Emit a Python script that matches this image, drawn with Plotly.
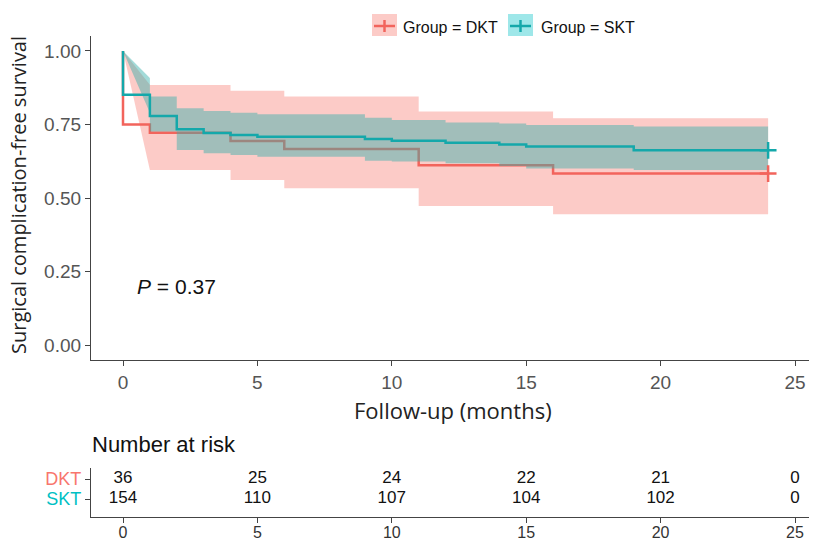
import plotly.graph_objects as go

# ---------------- data ----------------
groups = ["DKT", "SKT"]

# Kaplan-Meier step curves (time, survival)
dkt_time = [0, 0, 1, 4, 6, 11, 16, 24]
dkt_surv = [1.0, 0.750, 0.722, 0.694, 0.667, 0.611, 0.583, 0.583]

skt_time = [0, 0, 1, 2, 3, 4, 5, 9, 10, 12, 14, 15, 19, 24]
skt_surv = [1.0, 0.851, 0.779, 0.734, 0.721, 0.714, 0.708, 0.701, 0.695, 0.688, 0.682, 0.675, 0.662, 0.662]

# Confidence bands: knot times, upper/lower value per interval
dkt_ci_knots = [0, 1, 4, 6, 11, 16, 24]
dkt_upper = [0.885, 0.884, 0.865, 0.845, 0.794, 0.771]
dkt_lower = [0.595, 0.595, 0.561, 0.533, 0.473, 0.445]

skt_ci_knots = [0, 1, 2, 3, 4, 5, 9, 10, 12, 14, 15, 19, 24]
skt_upper = [0.908, 0.845, 0.805, 0.796, 0.790, 0.785, 0.773, 0.765, 0.757, 0.753, 0.748, 0.743]
skt_lower = [0.790, 0.726, 0.663, 0.652, 0.646, 0.640, 0.627, 0.624, 0.618, 0.609, 0.600, 0.595]

# Number at risk
risk_times = [0, 5, 10, 15, 20, 25]
dkt_risk = [36, 25, 24, 22, 21, 0]
skt_risk = [154, 110, 107, 104, 102, 0]

x_ticks = [0, 5, 10, 15, 20, 25]
y_ticks = [0.0, 0.25, 0.5, 0.75, 1.0]
p_text = "<i>P</i> = 0.37"

# ---------------- styles ----------------
RED = "#F2645C"
TEAL = "#14A8AA"
RED_FILL = "rgba(248,118,109,0.38)"
TEAL_FILL = "rgba(50,175,170,0.45)"
TEAL_KEY = "rgba(0,191,196,0.38)"

W, H = 817, 539
OFF = 8  # page body margin offset
ML, MR = 91 - OFF, 0
MT = 36 - OFF
MB = H - (517 - OFF)
PW, PH = W - ML - MR, H - MT - MB


def px_x(px):
    return (px - OFF - ML) / PW


def px_y(py):
    return (H - MB - (py - OFF)) / PH


def band_polygon(knots, upper, lower):
    xs, ys = [knots[0]], [1.0]
    xs.append(knots[1]); ys.append(upper[0])
    for i in range(1, len(upper)):
        xs += [knots[i], knots[i + 1]]
        ys += [upper[i], upper[i]]
    lx, ly = [knots[0]], [1.0]
    lx.append(knots[1]); ly.append(lower[0])
    for i in range(1, len(lower)):
        lx += [knots[i], knots[i + 1]]
        ly += [lower[i], lower[i]]
    return xs + lx[::-1], ys + ly[::-1]


fig = go.Figure()

bx, by = band_polygon(dkt_ci_knots, dkt_upper, dkt_lower)
fig.add_trace(go.Scatter(x=bx, y=by, fill="toself", fillcolor=RED_FILL, mode="none",
                         hoverinfo="skip", showlegend=False, xaxis="x", yaxis="y"))
fig.add_trace(go.Scatter(x=dkt_time, y=dkt_surv, mode="lines", line=dict(color=RED, width=2.5, shape="hv"),
                         showlegend=False, xaxis="x", yaxis="y"))
bx, by = band_polygon(skt_ci_knots, skt_upper, skt_lower)
fig.add_trace(go.Scatter(x=bx, y=by, fill="toself", fillcolor=TEAL_FILL, mode="none",
                         hoverinfo="skip", showlegend=False, xaxis="x", yaxis="y"))
fig.add_trace(go.Scatter(x=skt_time, y=skt_surv, mode="lines", line=dict(color=TEAL, width=2.5, shape="hv"),
                         showlegend=False, xaxis="x", yaxis="y"))
# censor marks
fig.add_trace(go.Scatter(x=[dkt_time[-1]], y=[dkt_surv[-1]], mode="markers",
                         marker=dict(symbol="cross-thin", size=12, line=dict(color=RED, width=2.5)),
                         showlegend=False, xaxis="x", yaxis="y"))
fig.add_trace(go.Scatter(x=[skt_time[-1]], y=[skt_surv[-1]], mode="markers",
                         marker=dict(symbol="cross-thin", size=12, line=dict(color=TEAL, width=2.5)),
                         showlegend=False, xaxis="x", yaxis="y"))

# risk table
table_font = dict(family="Liberation Sans Narrow, Liberation Sans", size=17, color="#111")
fig.add_trace(go.Scatter(x=risk_times, y=[2] * len(risk_times), mode="text",
                         text=[str(v) for v in dkt_risk], textfont=table_font,
                         showlegend=False, xaxis="x2", yaxis="y2"))
fig.add_trace(go.Scatter(x=risk_times, y=[1] * len(risk_times), mode="text",
                         text=[str(v) for v in skt_risk], textfont=table_font,
                         showlegend=False, xaxis="x2", yaxis="y2"))

# x range: 0 at page x 123, 25 at page x 795
ppu = (795 - 123) / 25
XR = [-(123 - 91) / ppu, 25 + (W + OFF - 795) / ppu]
tickfont = dict(family="Liberation Sans, Arial", size=19, color="#555")
axis_common = dict(showline=True, linecolor="#444", linewidth=1.3, ticks="outside", ticklen=5,
                   tickcolor="#444", showgrid=False, zeroline=False, automargin=False)

fig.update_layout(
    width=W, height=H,
    margin=dict(l=ML, r=MR, t=MT, b=MB, autoexpand=False),
    paper_bgcolor="white", plot_bgcolor="white",
    xaxis=dict(domain=[0, 1], anchor="y", range=XR, tickvals=x_ticks, tickfont=tickfont, **axis_common),
    yaxis=dict(domain=[px_y(360), 1], anchor="x", range=[-0.051, 1.051], tickvals=y_ticks,
               tickformat=".2f", tickfont=tickfont, **axis_common),
    xaxis2=dict(domain=[0, 1], anchor="y2", range=XR, tickvals=x_ticks, ticklabelstandoff=-4,
                tickfont=dict(family="Liberation Sans Narrow, Liberation Sans", size=16, color="#333"),
                **axis_common),
    yaxis2=dict(domain=[0, px_y(468)], anchor="x2", range=[0.1, 2.55], tickvals=[1, 2],
                ticktext=["<span style='color:#00BFC4'>SKT</span>",
                          "<span style='color:#F8766D'>DKT</span>"],
                tickfont=dict(family="Liberation Sans Narrow, Liberation Sans", size=18),
                **axis_common),
    showlegend=False,
)

ann = []
ann.append(dict(x=px_x(19), y=px_y(195), xref="paper", yref="paper", text="Surgical complication-free survival",
                textangle=-90, showarrow=False, font=dict(family="Open Sans", size=20, color="#222"),
                xanchor="center", yanchor="middle"))
ann.append(dict(x=px_x(453), y=px_y(410), xref="paper", yref="paper", text="Follow-up (months)",
                showarrow=False, font=dict(family="Open Sans", size=22, color="#222"),
                xanchor="center", yanchor="middle"))
ann.append(dict(x=0.45, y=0.2, xref="x", yref="y", text=p_text, showarrow=False,
                font=dict(family="Liberation Sans, Arial", size=21, color="#111"),
                xanchor="left", yanchor="middle"))
ann.append(dict(x=px_x(90), y=px_y(444), xref="paper", yref="paper", text="Number at risk",
                showarrow=False, font=dict(family="Liberation Sans, Arial", size=22, color="#111"),
                xanchor="left", yanchor="middle"))
# legend texts
ann.append(dict(x=px_x(401), y=px_y(27), xref="paper", yref="paper", text="Group = DKT", showarrow=False,
                font=dict(family="Liberation Sans, Arial", size=16, color="#111"), xanchor="left", yanchor="middle"))
ann.append(dict(x=px_x(539), y=px_y(27), xref="paper", yref="paper", text="Group = SKT", showarrow=False,
                font=dict(family="Liberation Sans, Arial", size=16, color="#111"), xanchor="left", yanchor="middle"))

shapes = []
for x0, fill, col in [(372, RED_FILL, RED), (508, TEAL_KEY, TEAL)]:
    shapes.append(dict(type="rect", xref="paper", yref="paper", x0=px_x(x0), x1=px_x(x0 + 25),
                       y0=px_y(36), y1=px_y(14), fillcolor=fill, line=dict(width=0), layer="above"))
    shapes.append(dict(type="line", xref="paper", yref="paper", x0=px_x(x0 + 2), x1=px_x(x0 + 23),
                       y0=px_y(26), y1=px_y(26), line=dict(color=col, width=2.5), layer="above"))
    shapes.append(dict(type="line", xref="paper", yref="paper", x0=px_x(x0 + 12.5), x1=px_x(x0 + 12.5),
                       y0=px_y(20), y1=px_y(32), line=dict(color=col, width=2.5), layer="above"))

fig.update_layout(annotations=ann, shapes=shapes)

fig.write_html("out.html")
